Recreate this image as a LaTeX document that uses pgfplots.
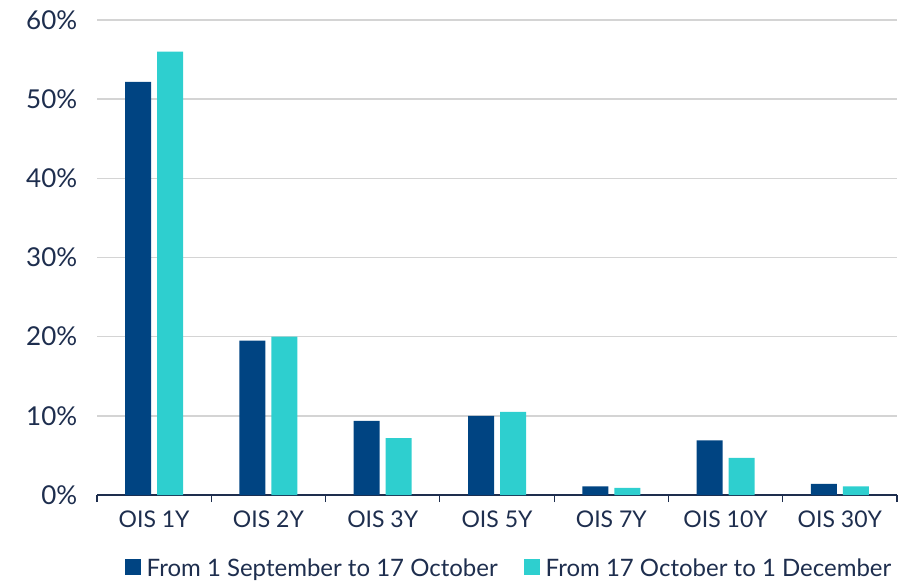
\documentclass[border=0pt]{standalone}
\usepackage{fontspec}
\setmainfont{Lato}
\usepackage{pgfplots}
\pgfplotsset{compat=1.18}
\definecolor{navy}{HTML}{004482}
\definecolor{aqua}{HTML}{2ECFCF}
\definecolor{txt}{HTML}{1E2E4E}
\definecolor{gridc}{HTML}{D4D4D4}
\begin{document}
\begin{tikzpicture}
\useasboundingbox (0,0) rectangle (910pt,582pt);
\begin{axis}[
  at={(97pt,87pt)}, anchor=south west,
  scale only axis, width=800pt, height=475pt,
  ybar, bar width=26pt,
  xmin=-0.5, xmax=6.5, ymin=0, ymax=60,
  xtick={0,...,6},
  xticklabels={OIS 1Y,OIS 2Y,OIS 3Y,OIS 5Y,OIS 7Y,OIS 10Y,OIS 30Y},
  minor xtick={-0.5,0.5,...,6.5},
  tick align=outside,
  major x tick style={draw=none},
  minor x tick style={draw=txt, line width=1.2pt},
  minor tick length=7pt,
  ytick={0,10,...,60},
  yticklabels={0\%,10\%,20\%,30\%,40\%,50\%,60\%},
  ytick style={draw=none},
  ymajorgrids, grid style={gridc, line width=1.5pt},
  axis lines*=left,
  y axis line style={draw=none},
  x axis line style={draw=txt, line width=1.2pt, -},
  ticklabel style={font=\fontsize{23}{27}\selectfont, text=txt},
  yticklabel style={font=\fontsize{26}{30}\selectfont, xshift=-12pt},
  xticklabel style={yshift=-8pt},
  legend style={at={(0.515,-0.154)}, anchor=center, draw=none, fill=none,
    font=\fontsize{24}{28}\selectfont, text=txt, legend columns=2,
    /tikz/every even column/.append style={column sep=24pt}},
  legend image code/.code={\fill[#1] (0pt,-7pt) rectangle (16pt,9pt);
    \path (20pt,0pt);},
]
\addplot+[fill=navy, draw=none, bar shift=-16pt] coordinates
  {(0,52.2)(1,19.5)(2,9.35)(3,10.0)(4,1.1)(5,6.9)(6,1.4)};
\addplot+[fill=aqua, draw=none, bar shift=16pt] coordinates
  {(0,56.0)(1,20.0)(2,7.2)(3,10.5)(4,0.9)(5,4.7)(6,1.1)};
\legend{From 1 September to 17 October, From 17 October to 1 December}
\end{axis}
\end{tikzpicture}
\end{document}
